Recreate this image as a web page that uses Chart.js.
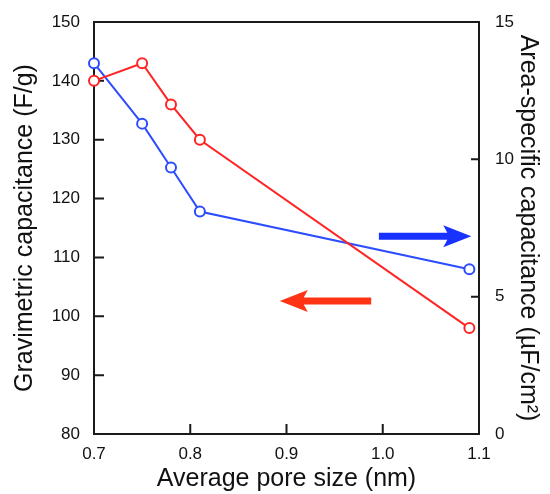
<!DOCTYPE html>
<html>
<head>
<meta charset="utf-8">
<script src="https://cdn.jsdelivr.net/npm/chart.js@4/dist/chart.umd.min.js"></script>
<style>
  html, body { margin: 0; padding: 0; background: #fff; }
  #wrap { width: 550px; height: 494px; }
</style>
</head>
<body>
<div id="wrap"><canvas id="chart"></canvas></div>
<script>
// pore size (nm)
const poreSize = [0.70, 0.75, 0.78, 0.81, 1.09];
// gravimetric capacitance (F/g), left axis
const gravimetric = [140, 143, 136, 130, 98];
// area-specific capacitance (uF/cm2), right axis
const areaSpecific = [13.5, 11.3, 9.7, 8.1, 6.0];

const xTicks = [0.7, 0.8, 0.9, 1.0, 1.1];
const leftTicks = [80, 90, 100, 110, 120, 130, 140, 150];
const rightTicks = [0, 5, 10, 15];

const RED = '#ff2424';
const BLUE = '#2c4cff';
const FONT = 'Liberation Sans, Arial, Helvetica, sans-serif';

function pts(xs, ys) {
  return xs.map((x, i) => ({ x: x, y: ys[i] }));
}

// box, inward ticks and the two arrows
const framePlugin = {
  id: 'frame',
  beforeDatasetsDraw(chart) {
    const ctx = chart.ctx;
    const a = chart.chartArea;
    const sx = chart.scales.x, sl = chart.scales.y, sr = chart.scales.y2;
    ctx.save();
    ctx.strokeStyle = '#1a1a1a';
    ctx.lineWidth = 2;
    ctx.strokeRect(a.left, a.top, a.right - a.left, a.bottom - a.top);
    ctx.beginPath();
    xTicks.slice(1, -1).forEach(v => {
      const px = sx.getPixelForValue(v);
      ctx.moveTo(px, a.bottom); ctx.lineTo(px, a.bottom - 10);
    });
    leftTicks.slice(1, -1).forEach(v => {
      const py = sl.getPixelForValue(v);
      ctx.moveTo(a.left, py); ctx.lineTo(a.left + 10, py);
    });
    rightTicks.slice(1, -1).forEach(v => {
      const py = sr.getPixelForValue(v);
      ctx.moveTo(a.right, py); ctx.lineTo(a.right - 8, py);
    });
    ctx.stroke();

    // arrows: blue points to right axis, red to left axis
    const arrow = (x0, x1, y, color) => {
      const dir = Math.sign(x1 - x0);
      const head = 24, half = 11, shaft = 3.5;
      ctx.fillStyle = color;
      ctx.beginPath();
      ctx.moveTo(x0, y - shaft);
      ctx.lineTo(x1 - dir * head, y - shaft);
      ctx.lineTo(x1 - dir * (head + 4), y - half);
      ctx.lineTo(x1, y);
      ctx.lineTo(x1 - dir * (head + 4), y + half);
      ctx.lineTo(x1 - dir * head, y + shaft);
      ctx.lineTo(x0, y + shaft);
      ctx.closePath();
      ctx.fill();
    };
    arrow(sx.getPixelForValue(0.996), sx.getPixelForValue(1.092), sr.getPixelForValue(7.2), '#1832ff');
    arrow(sx.getPixelForValue(0.988), sx.getPixelForValue(0.893), sl.getPixelForValue(102.6), '#ff3414');
    ctx.restore();
  }
};

new Chart(document.getElementById('chart'), {
  type: 'line',
  data: {
    datasets: [
      {
        label: 'Gravimetric',
        data: pts(poreSize, gravimetric),
        yAxisID: 'y',
        borderColor: RED,
        borderWidth: 2,
        pointBackgroundColor: '#fff',
        pointBorderColor: RED,
        pointBorderWidth: 2,
        pointRadius: 5,
        clip: false
      },
      {
        label: 'Area-specific',
        data: pts(poreSize, areaSpecific),
        yAxisID: 'y2',
        borderColor: BLUE,
        borderWidth: 2,
        pointBackgroundColor: '#fff',
        pointBorderColor: BLUE,
        pointBorderWidth: 2,
        pointRadius: 5,
        clip: false
      }
    ]
  },
  options: {
    responsive: true,
    maintainAspectRatio: false,
    animation: false,
    layout: { padding: { top: 22, left: 0, right: 0, bottom: 0 } },
    plugins: { legend: { display: false }, tooltip: { enabled: false } },
    scales: {
      x: {
        type: 'linear',
        min: 0.7, max: 1.1,
        afterFit(s) { s.height = 60; },
        afterBuildTicks(s) { s.ticks = xTicks.map(v => ({ value: v })); },
        border: { display: false },
        grid: { display: false },
        ticks: {
          autoSkip: false, maxRotation: 0, padding: 2,
          color: '#111', font: { family: FONT, size: 17 },
          callback: v => v.toFixed(1)
        },
        title: {
          display: true, text: 'Average pore size (nm)',
          color: '#111', font: { family: FONT, size: 25 },
          padding: { top: 0, bottom: 0 }
        }
      },
      y: {
        position: 'left',
        min: 80, max: 150,
        afterFit(s) { s.width = 94; },
        afterBuildTicks(s) { s.ticks = leftTicks.map(v => ({ value: v })); },
        border: { display: false },
        grid: { display: false },
        ticks: { padding: 6, color: '#111', font: { family: FONT, size: 17 } },
        title: {
          display: true, text: 'Gravimetric capacitance (F/g)',
          color: '#111', font: { family: FONT, size: 25 },
          padding: { top: 10, bottom: 0 }
        }
      },
      y2: {
        position: 'right',
        min: 0, max: 15,
        afterFit(s) { s.width = 71; },
        afterBuildTicks(s) { s.ticks = rightTicks.map(v => ({ value: v })); },
        border: { display: false },
        grid: { display: false },
        ticks: { padding: 8, color: '#111', font: { family: FONT, size: 17 } },
        title: {
          display: true, text: 'Area-specific capacitance (\u00b5F/cm\u00b2)',
          color: '#111', font: { family: FONT, size: 25 },
          padding: { top: 7, bottom: 0 }
        }
      }
    }
  },
  plugins: [framePlugin]
});
</script>
</body>
</html>
